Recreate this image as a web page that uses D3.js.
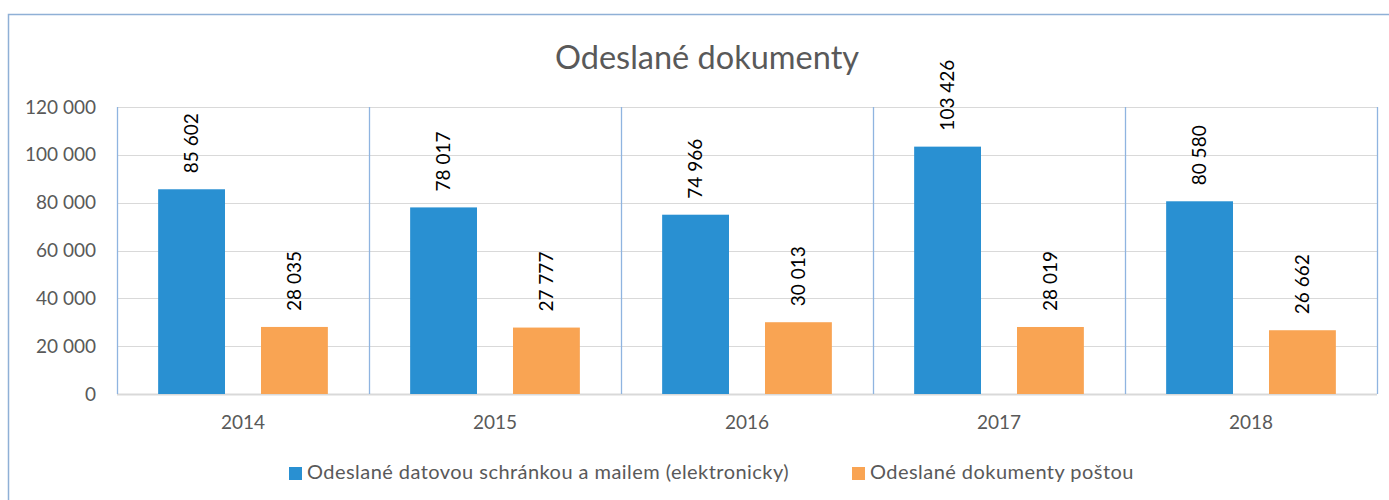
<!DOCTYPE html>
<html>
<head>
<meta charset="utf-8">
<script src="https://cdn.jsdelivr.net/npm/d3@7"></script>
<style>
	body { margin: 0; background: #fff; }
	svg { display: block; font-family: Lato, 'Noto Sans', sans-serif; }
</style>
</head>
<body>
<div id="chart"></div>
<script>
const years = ["2014", "2015", "2016", "2017", "2018"];
const electronic = [85602, 78017, 74966, 103426, 80580];
const postal = [28035, 27777, 30013, 28019, 26662];
const seriesNames = ["Odeslané datovou schránkou a mailem (elektronicky)", "Odeslané dokumenty poštou"];
const seriesColors = ["#2990d2", "#f9a453"];
const yTicks = [0, 20000, 40000, 60000, 80000, 100000, 120000];

const width = 1389, height = 500;
const margin = { top: 107, right: 12, bottom: 106, left: 117 };

// thousands separated by a space, as in the original
const fmt = v => d3.format(",")(v).replace(/,/g, " ");

const svg = d3.select("#chart").append("svg")
	.attr("width", width)
	.attr("height", height);

// chart frame (right edge falls outside the picture)
svg.append("path")
	.attr("d", `M8.5,${height} V14.5 H${width}`)
	.attr("fill", "none")
	.attr("stroke", "#8fb0d6")
	.attr("stroke-width", 1.5);

svg.append("text")
	.attr("x", 707)
	.attr("y", 69)
	.attr("text-anchor", "middle")
	.attr("fill", "#595959")
	.attr("font-size", 32.5)
	.text("Odeslané dokumenty");

const x = d3.scaleBand()
	.domain(years)
	.range([margin.left, width - margin.right])
	.padding(0);

const xInner = d3.scaleBand()
	.domain([0, 1])
	.range([0, x.bandwidth()])
	.paddingInner(0.35)
	.paddingOuter(0.4);

const y = d3.scaleLinear()
	.domain([0, 120000])
	.range([height - margin.bottom, margin.top]);

// horizontal gridlines
svg.append("g")
	.selectAll("line")
	.data(yTicks)
	.join("line")
	.attr("x1", margin.left)
	.attr("x2", width - margin.right)
	.attr("y1", d => Math.round(y(d)) + 0.5)
	.attr("y2", d => Math.round(y(d)) + 0.5)
	.attr("stroke", "#d9d9d9")
	.attr("stroke-width", d => d == 0 ? 2 : 1.2);

// category separators
svg.append("g")
	.selectAll("line")
	.data([...years.map(d => x(d)), x.range()[1]])
	.join("line")
	.attr("x1", d => Math.round(d) + 0.5)
	.attr("x2", d => Math.round(d) + 0.5)
	.attr("y1", margin.top)
	.attr("y2", y(0))
	.attr("stroke", "#8fb4e0")
	.attr("stroke-width", 1.3);

// y axis labels
svg.append("g")
	.selectAll("text")
	.data(yTicks)
	.join("text")
	.attr("x", 96)
	.attr("y", d => y(d))
	.attr("dy", "0.35em")
	.attr("text-anchor", "end")
	.attr("fill", "#595959")
	.attr("font-size", 19)
	.text(d => fmt(d));

// x axis labels
svg.append("g")
	.selectAll("text")
	.data(years)
	.join("text")
	.attr("x", d => x(d) + x.bandwidth() / 2)
	.attr("y", 429)
	.attr("text-anchor", "middle")
	.attr("fill", "#595959")
	.attr("font-size", 19)
	.text(d => d);

const groups = svg.append("g")
	.selectAll("g")
	.data(years.map((yr, i) => ({ year: yr, values: [electronic[i], postal[i]] })))
	.join("g")
	.attr("transform", d => `translate(${x(d.year)}, 0)`);

groups.selectAll("rect")
	.data(d => d.values)
	.join("rect")
	.attr("x", (d, i) => xInner(i))
	.attr("width", xInner.bandwidth())
	.attr("y", d => y(d))
	.attr("height", d => y(0) - y(d))
	.attr("fill", (d, i) => seriesColors[i]);

// rotated data labels above bars
groups.selectAll("text")
	.data(d => d.values)
	.join("text")
	.attr("transform", (d, i) => `translate(${xInner(i) + xInner.bandwidth() / 2}, ${y(d) - 16}) rotate(-90)`)
	.attr("dy", "0.35em")
	.attr("text-anchor", "start")
	.attr("fill", "#000")
	.attr("font-size", 19)
	.text(d => fmt(d));

// legend
const legendPos = [289, 852];
const legend = svg.append("g")
	.selectAll("g")
	.data(seriesNames)
	.join("g")
	.attr("transform", (d, i) => `translate(${legendPos[i]}, 467)`);

legend.append("rect")
	.attr("width", 13)
	.attr("height", 13)
	.attr("fill", (d, i) => seriesColors[i]);

legend.append("text")
	.attr("x", 18)
	.attr("y", 12)
	.attr("fill", "#595959")
	.attr("font-size", 20)
	.attr("letter-spacing", "0.45px")
	.text(d => d);
</script>
</body>
</html>
